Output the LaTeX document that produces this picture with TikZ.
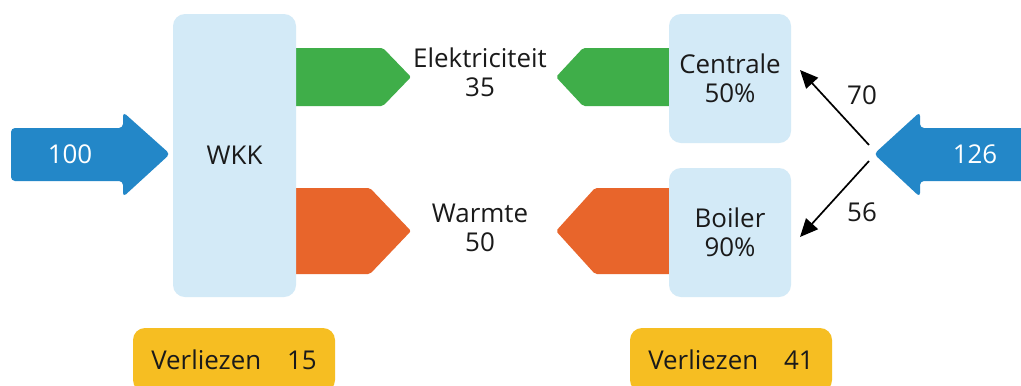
\documentclass[tikz,border=0pt]{standalone}
\usepackage{fontspec}
\setmainfont{Open Sans}
\usetikzlibrary{arrows.meta}
\definecolor{cblue}{HTML}{2387C8}
\definecolor{cgreen}{HTML}{3FAE49}
\definecolor{corange}{HTML}{E8652B}
\definecolor{clight}{HTML}{D3EAF7}
\definecolor{cyellow}{HTML}{F6BE22}
\definecolor{ctext}{HTML}{1A1A1A}
\begin{document}
\begin{tikzpicture}[x=1bp,y=-1bp,
  lbl/.style={font=\fontsize{26}{31}\selectfont, text=ctext, align=center, inner sep=0pt},
  wlbl/.style={font=\fontsize{26}{31}\selectfont, text=white, inner sep=0pt},
  unitbox/.style={fill=clight, rounded corners=12bp, inner sep=0pt, font=\fontsize{26}{31}\selectfont, text=ctext, align=center},
  lossbox/.style={fill=cyellow, rounded corners=12bp, inner sep=0pt, font=\fontsize{26}{31}\selectfont, text=ctext, minimum width=202bp, minimum height=64bp, text depth=0pt},
  bigarrow/.style={fill=cblue, rounded corners=4bp},
  flowg/.style={fill=cgreen, rounded corners=2bp},
  flowo/.style={fill=corange, rounded corners=2bp},
  split/.style={line width=1.7bp, draw=black, -{Triangle[length=18bp,width=16bp]}}
]
\useasboundingbox (0,0) rectangle (1021,385);
\fill[white] (0,0) rectangle (1021,385);

% flows (behind boxes)
\fill[flowg] (290,48) -- (383,48) -- (411,77) -- (383,106) -- (290,106) -- cycle;
\fill[flowo] (290,188) -- (370,188) -- (411,231) -- (370,274) -- (290,274) -- cycle;
\fill[flowg] (675,48) -- (583,48) -- (556,77) -- (583,106) -- (675,106) -- cycle;
\fill[flowo] (675,188) -- (595,188) -- (556,231) -- (595,274) -- (675,274) -- cycle;

% input arrows
\fill[bigarrow] (11,128) -- (123,128) -- (123,112) -- (170,154) -- (123,197) -- (123,181) -- (11,181) -- cycle;
\fill[bigarrow] (1030,128) -- (920,128) -- (920,112) -- (874,154) -- (920,197) -- (920,181) -- (1030,181) -- cycle;
\node[wlbl] (in100) at (70,154) {100};
\node[wlbl] (in126) at (975,154) {126};

% units
\node[unitbox, minimum width=123bp, minimum height=283bp] (wkk) at (234.5,155.5) {WKK};
\node[unitbox, minimum width=122bp, minimum height=129bp] (centrale) at (730,78.5) {Centrale\\[-2pt]50\%};
\node[unitbox, minimum width=122bp, minimum height=129bp] (boiler) at (730,232.5) {Boiler\\[-2pt]90\%};

% flow labels
\node[lbl] (elek) at (480,72) {Elektriciteit\\[-2pt]35};
\node[lbl] (warm) at (480,228) {Warmte\\[-2pt]50};

% split arrows
\coordinate (s1) at (869,145);
\coordinate (s2) at (869,161);
\coordinate (c1) at (800,70);
\coordinate (b1) at (800,237);
\draw[split] (s1) -- (c1);
\draw[split] (s2) -- (b1);
\node[lbl] (n70) at (862,95) {70};
\node[lbl] (n56) at (862,212) {56};

% losses
\node[lossbox] (loss1) at (234,360) {Verliezen\quad 15};
\node[lossbox] (loss2) at (731,360) {Verliezen\quad 41};
\end{tikzpicture}
\end{document}
